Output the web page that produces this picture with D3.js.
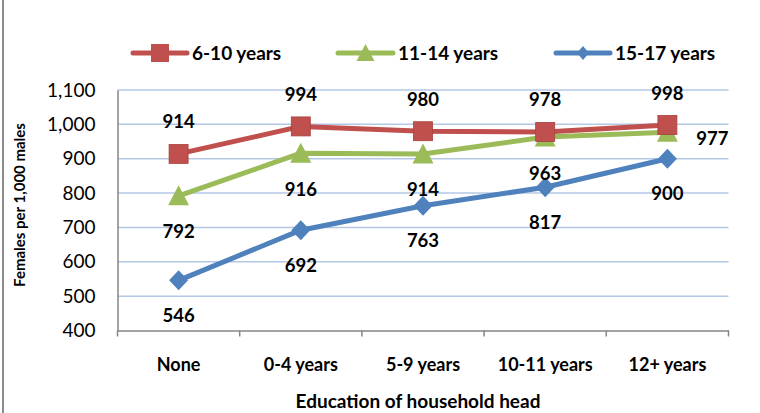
<!DOCTYPE html>
<html><head><meta charset="utf-8">
<script src="https://cdn.jsdelivr.net/npm/d3@7"></script>
<style>body{margin:0;background:#fff;}svg{display:block;font-family:Lato, "Open Sans", sans-serif;}</style>
</head><body>
<script>
const categories = ["None", "0-4 years", "5-9 years", "10-11 years", "12+ years"];
const seriesNames = ["6-10 years", "11-14 years", "15-17 years"];
const values610 = [914, 994, 980, 978, 998];
const values1114 = [792, 916, 914, 963, 977];
const values1517 = [546, 692, 763, 817, 900];
const yTicks = [400, 500, 600, 700, 800, 900, 1000, 1100];

const W = 760, H = 413;
const svg = d3.select("body").append("svg").attr("width", W).attr("height", H);

const x = d3.scaleBand().domain(categories).range([117.5, 728.5]);
const y = d3.scaleLinear().domain([400, 1100]).range([330.5, 90]);

// outer frame left edge
svg.append("line").attr("x1", 3).attr("x2", 3).attr("y1", 0).attr("y2", H)
  .attr("stroke", "#8c8c8c").attr("stroke-width", 2);

// gridlines
svg.append("g").selectAll("line").data(yTicks.filter(d => d > 400)).join("line")
  .attr("x1", 117.5).attr("x2", 728.5)
  .attr("y1", d => y(d)).attr("y2", d => y(d))
  .attr("stroke", "#b4c8e6").attr("stroke-width", 1.5);

// y axis
const yAxis = d3.axisLeft(y).tickValues(yTicks).tickSize(0).tickPadding(22)
  .tickFormat(d3.format(","));
const gy = svg.append("g").attr("transform", "translate(117.5,0)").call(yAxis);
gy.select(".domain").attr("stroke", "#868686").attr("stroke-width", 1.5);
gy.selectAll("text").attr("font-size", 19).attr("fill", "#000").attr("font-family", "Lato");

// x axis
const gx = svg.append("g").attr("transform", "translate(0,330.5)")
  .call(d3.axisBottom(x).tickSize(0).tickPadding(28));
gx.select(".domain").attr("stroke", "#868686").attr("stroke-width", 1.5);
gx.selectAll("text").attr("font-size", 18).attr("font-weight", "bold").attr("fill", "#000").attr("font-family", "Lato");
// tick marks at band boundaries
const bounds = categories.map(c => x(c)).concat([x.range()[1]]);
gx.append("g").selectAll("line").data(bounds).join("line")
  .attr("x1", d => d).attr("x2", d => d).attr("y1", 0).attr("y2", 6)
  .attr("stroke", "#868686").attr("stroke-width", 1.5);

// axis titles
svg.append("text").attr("x", 418).attr("y", 408).attr("text-anchor", "middle")
  .attr("font-size", 19).attr("font-weight", "bold").text("Education of household head");
svg.append("text").attr("transform", "translate(25,205) rotate(-90)").attr("text-anchor", "middle")
  .attr("font-size", 15).attr("font-weight", "bold").text("Females per 1,000 males");

const cx = c => x(c) + x.bandwidth() / 2;
const series = [
  {name: seriesNames[0], vals: values610, color: "#c0504d", marker: "square", dy: -32, dx: 0},
  {name: seriesNames[1], vals: values1114, color: "#9bbb59", marker: "triangle", dy: 36, dx: 0},
  {name: seriesNames[2], vals: values1517, color: "#4f81bd", marker: "diamond", dy: 35, dx: 0}
];

function marker(g, type, color) {
  if (type === "square") {
    g.append("rect").attr("x", -9.5).attr("y", -9.5).attr("width", 19).attr("height", 19)
      .attr("fill", color).attr("stroke", "#a8403d").attr("stroke-width", 0.8);
  } else if (type === "triangle") {
    g.append("path").attr("d", "M0,-10.5L10.5,9.5L-10.5,9.5Z").attr("fill", color);
  } else {
    g.append("path").attr("d", "M0,-10L9.5,0L0,10L-9.5,0Z").attr("fill", color);
  }
}

const line = d3.line().x((d, i) => cx(categories[i])).y(d => y(d));
// draw blue first, then green, then red (red on top)
[2, 1, 0].forEach(si => {
  const s = series[si];
  svg.append("path").datum(s.vals).attr("d", line).attr("fill", "none")
    .attr("stroke", s.color).attr("stroke-width", 5).attr("stroke-linejoin", "round").attr("stroke-linecap", "round");
  s.vals.forEach((v, i) => {
    const g = svg.append("g").attr("transform", `translate(${cx(categories[i])},${y(v)})`);
    marker(g, s.marker, s.color);
  });
});

// data labels
series.forEach((s, si) => {
  s.vals.forEach((v, i) => {
    let lx = cx(categories[i]), ly = y(v) + s.dy;
    if (si === 1 && i === 4) { lx = cx(categories[i]) + 45; ly = y(v) + 6; }
    svg.append("text").attr("x", lx).attr("y", ly).attr("dy", "0.35em")
      .attr("text-anchor", "middle").attr("font-size", 18.5).attr("font-weight", "bold")
      .attr("fill", "#000").text(d3.format("")(v));
  });
});

// legend
const legendItems = [
  {s: series[0], x1: 133, x2: 187, tx: 192},
  {s: series[1], x1: 338, x2: 393, tx: 398},
  {s: series[2], x1: 556, x2: 610, tx: 615}
];
const ly = 53;
legendItems.forEach(li => {
  svg.append("line").attr("x1", li.x1).attr("x2", li.x2).attr("y1", ly).attr("y2", ly)
    .attr("stroke", li.s.color).attr("stroke-width", 5).attr("stroke-linecap", "round");
  const g = svg.append("g").attr("transform", `translate(${(li.x1 + li.x2) / 2},${ly})`);
  if (li.s.marker === "square") {
    g.append("rect").attr("x", -9).attr("y", -9).attr("width", 18).attr("height", 18).attr("fill", li.s.color);
  } else if (li.s.marker === "triangle") {
    g.append("path").attr("d", "M0,-9L9,8L-9,8Z").attr("fill", li.s.color);
  } else {
    g.append("path").attr("d", "M0,-7L6,0L0,7L-6,0Z").attr("fill", li.s.color);
  }
  svg.append("text").attr("x", li.tx).attr("y", ly).attr("dy", "0.35em")
    .attr("font-size", 19).attr("font-weight", "bold").attr("fill", "#000").text(li.s.name);
});
</script>
</body></html>
